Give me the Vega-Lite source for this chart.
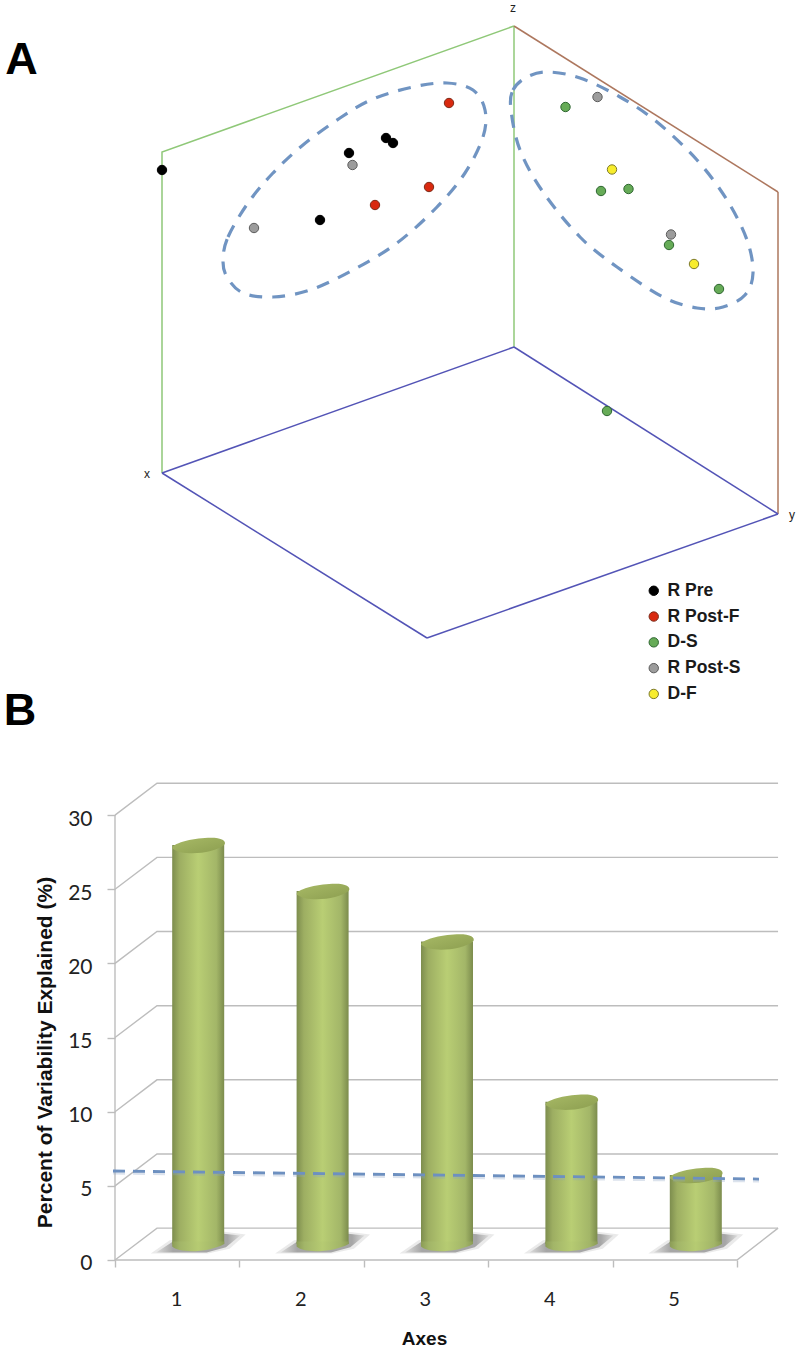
{
"$schema":"https://vega.github.io/schema/vega-lite/v6.json",
"padding":0,"spacing":0,"background":"white","bounds":"flush",
"config":{"view":{"stroke":null},"concat":{"spacing":0}},
"datasets":{
"points":[
{"group":"R Pre","px":162,"py":170},{"group":"R Pre","px":349,"py":153},{"group":"R Pre","px":386,"py":138},{"group":"R Pre","px":393,"py":143},{"group":"R Pre","px":320,"py":220},
{"group":"R Post-F","px":449,"py":103},{"group":"R Post-F","px":429,"py":187},{"group":"R Post-F","px":375,"py":205},
{"group":"D-S","px":565.5,"py":107},{"group":"D-S","px":601,"py":191},{"group":"D-S","px":628.5,"py":189},{"group":"D-S","px":669,"py":245},{"group":"D-S","px":719,"py":289},{"group":"D-S","px":607,"py":411},
{"group":"R Post-S","px":597.5,"py":97},{"group":"R Post-S","px":352.5,"py":165},{"group":"R Post-S","px":254,"py":228},{"group":"R Post-S","px":671,"py":234.5},
{"group":"D-F","px":612,"py":169.5},{"group":"D-F","px":694,"py":264}
],
"green":[{"e":"a","px":162,"py":473},{"e":"a","px":162,"py":152},{"e":"a","px":514,"py":26},{"e":"b","px":514,"py":26},{"e":"b","px":514,"py":347}],
"brown":[{"e":"a","px":514,"py":26},{"e":"a","px":778,"py":192},{"e":"b","px":778,"py":192},{"e":"b","px":778,"py":514}],
"blue":[{"e":"a","px":162,"py":473},{"e":"a","px":514,"py":347},{"e":"b","px":514,"py":347},{"e":"b","px":778,"py":514},{"e":"c","px":162,"py":473},{"e":"c","px":427,"py":638},{"e":"d","px":427,"py":638},{"e":"d","px":778,"py":514}],
"rings":[
{"r":"L","i":1,"px":223,"py":260},{"r":"L","i":2,"px":228,"py":237},{"r":"L","i":3,"px":248,"py":203},{"r":"L","i":4,"px":273,"py":173},{"r":"L","i":5,"px":303,"py":145},{"r":"L","i":6,"px":340,"py":118},{"r":"L","i":7,"px":373,"py":99},{"r":"L","i":8,"px":413,"py":87},{"r":"L","i":9,"px":447,"py":83},{"r":"L","i":10,"px":473,"py":90},{"r":"L","i":11,"px":485,"py":110},{"r":"L","i":12,"px":483,"py":137},{"r":"L","i":13,"px":465,"py":173},{"r":"L","i":14,"px":437,"py":207},{"r":"L","i":15,"px":397,"py":243},{"r":"L","i":16,"px":353,"py":270},{"r":"L","i":17,"px":310,"py":290},{"r":"L","i":18,"px":273,"py":297},{"r":"L","i":19,"px":243,"py":293},{"r":"L","i":20,"px":227,"py":277},
{"r":"R","i":1,"px":511,"py":110},{"r":"R","i":2,"px":513,"py":90},{"r":"R","i":3,"px":527,"py":77},{"r":"R","i":4,"px":548,"py":72},{"r":"R","i":5,"px":580,"py":78},{"r":"R","i":6,"px":620,"py":97},{"r":"R","i":7,"px":657,"py":122},{"r":"R","i":8,"px":697,"py":160},{"r":"R","i":9,"px":727,"py":200},{"r":"R","i":10,"px":747,"py":240},{"r":"R","i":11,"px":753,"py":273},{"r":"R","i":12,"px":745,"py":295},{"r":"R","i":13,"px":723,"py":307},{"r":"R","i":14,"px":697,"py":308},{"r":"R","i":15,"px":663,"py":297},{"r":"R","i":16,"px":617,"py":267},{"r":"R","i":17,"px":580,"py":237},{"r":"R","i":18,"px":543,"py":192},{"r":"R","i":19,"px":520,"py":150}
],
"bars":[{"axis":1,"value":26.9},{"axis":2,"value":23.8},{"axis":3,"value":20.4},{"axis":4,"value":9.6},{"axis":5,"value":4.65}],
"grid":[
{"g":"wall","a":0.5,"v":0},{"g":"wall","a":0.5,"v":30},
{"g":"f0","a":0.5,"v":0},{"g":"f0","a":5.5,"v":0},{"g":"f0","a":5.83,"v":2.15},
{"g":"g0","a":0.5,"v":0},{"g":"g0","a":0.8376,"v":2.15},{"g":"g0","a":5.83,"v":2.15},
{"g":"g5","a":0.5,"v":5},{"g":"g5","a":0.8376,"v":7.15},{"g":"g5","a":5.83,"v":7.15},
{"g":"g10","a":0.5,"v":10},{"g":"g10","a":0.8376,"v":12.15},{"g":"g10","a":5.83,"v":12.15},
{"g":"g15","a":0.5,"v":15},{"g":"g15","a":0.8376,"v":17.15},{"g":"g15","a":5.83,"v":17.15},
{"g":"g20","a":0.5,"v":20},{"g":"g20","a":0.8376,"v":22.15},{"g":"g20","a":5.83,"v":22.15},
{"g":"g25","a":0.5,"v":25},{"g":"g25","a":0.8376,"v":27.15},{"g":"g25","a":5.83,"v":27.15},
{"g":"g30","a":0.5,"v":30},{"g":"g30","a":0.8376,"v":32.15},{"g":"g30","a":5.83,"v":32.15}
],
"threshold":[{"a":0.484,"v":6.0},{"a":5.677,"v":5.46}]
},
"vconcat":[
{
"width":800,"height":730,
"encoding":{
"x":{"field":"px","type":"quantitative","scale":{"domain":[0,800],"nice":false,"zero":false},"axis":null},
"y":{"field":"py","type":"quantitative","scale":{"domain":[730,0],"nice":false,"zero":false},"axis":null}
},
"layer":[
{"data":{"name":"green"},"mark":{"type":"line","color":"#8fc878","strokeWidth":1.5},"encoding":{"detail":{"field":"e"}}},
{"data":{"name":"brown"},"mark":{"type":"line","color":"#ad775e","strokeWidth":1.5},"encoding":{"detail":{"field":"e"}}},
{"data":{"name":"blue"},"mark":{"type":"line","color":"#5354b6","strokeWidth":1.5},"encoding":{"detail":{"field":"e"}}},
{"data":{"name":"rings"},"mark":{"type":"line","color":"#7094c2","strokeWidth":3.2,"strokeDash":[13,10],"interpolate":"cardinal-closed"},"encoding":{"detail":{"field":"r"},"order":{"field":"i"}}},
{"data":{"name":"points"},"mark":{"type":"point","filled":true,"opacity":1,"size":88,"strokeWidth":1},
"encoding":{
"fill":{"field":"group","type":"nominal","sort":["R Pre","R Post-F","D-S","R Post-S","D-F"],
"scale":{"domain":["R Pre","R Post-F","D-S","R Post-S","D-F"],"range":["#000000","#d9290f","#66ab57","#9c9c9c","#f7ec2c"]},
"legend":{"orient":"none","legendX":645,"legendY":582,"title":null,"labelFont":"Liberation Sans","labelFontWeight":"bold","labelFontSize":17.5,"labelColor":"#1a1a1a","symbolSize":88,"symbolType":"circle","symbolStrokeWidth":1,"rowPadding":6.8,"labelOffset":5,"symbolOpacity":1}},
"stroke":{"field":"group","type":"nominal","sort":["R Pre","R Post-F","D-S","R Post-S","D-F"],
"scale":{"domain":["R Pre","R Post-F","D-S","R Post-S","D-F"],"range":["#000000","#7c2a18","#2e6630","#5c5c5c","#7d7a2a"]},"legend":{"orient":"none","legendX":645,"legendY":582,"title":null}}
}},
{"data":{"values":[{"t":"A","px":21.5,"py":74},{"t":"B","px":20,"py":725}]},"mark":{"type":"text","font":"Liberation Sans","fontWeight":"bold","fontSize":45,"align":"center","baseline":"alphabetic","color":"#000"},"encoding":{"text":{"field":"t"}}},
{"data":{"values":[{"t":"z","px":513,"py":8},{"t":"x","px":147,"py":474},{"t":"y","px":792,"py":515}]},"mark":{"type":"text","font":"Liberation Sans","fontSize":12,"align":"center","baseline":"middle","color":"#222"},"encoding":{"text":{"field":"t"}}}
]
},
{
"width":800,"height":622,
"layer":[
{"data":{"name":"grid"},"mark":{"type":"line","color":"#bdbdbd","strokeWidth":1.4},
"encoding":{
"x":{"field":"a","type":"quantitative","title":"Axes","scale":{"domain":[-0.4244,6.0064],"nice":false,"zero":false,"padding":0},
"axis":{"values":[0.5,1.5,2.5,3.5,4.5,5.5],"labelExpr":"datum.value==5.5?'':format(datum.value+0.5,'d')","offset":-92,"domain":false,"grid":false,"tickColor":"#bdbdbd","tickSize":7,"tickWidth":1.4,"labelOffset":61,"labelPadding":22,"labelFont":"Lato","labelFontSize":20,"labelColor":"#222","labelFlush":false,"labelOverlap":false,"titleFont":"Liberation Sans","titleFontWeight":"bold","titleFontSize":19,"titleColor":"#111","titleX":424,"titleY":78,"titleBaseline":"middle"}},
"y":{"field":"v","type":"quantitative","title":"Percent of Variability Explained  (%)","scale":{"domain":[-6.204,35.74],"nice":false,"zero":false,"padding":0},
"axis":{"values":[0,5,10,15,20,25,30],"offset":-115,"domain":false,"grid":false,"tickColor":"#bdbdbd","tickSize":8,"tickWidth":1.4,"labelPadding":15,"labelOffset":4,"labelFont":"Lato","labelFontSize":21,"labelColor":"#222","titleFont":"Liberation Sans","titleFontWeight":"bold","titleFontSize":21,"titleColor":"#111","titleX":-70,"titleY":322,"titleBaseline":"middle","titleAngle":-90}},
"detail":{"field":"g"}
}},
{"data":{"name":"bars"},"mark":{"type":"point","filled":true,"opacity":0.35,"xOffset":21,"yOffset":-16,"size":9000,"shape":"M-1,0.2 L-0.6,-0.08 L0.55,-0.26 L1,-0.2 L0.66,0.1 L0.2,0.2 Z","color":"#c4c4c4"},
"encoding":{"x":{"field":"axis","type":"quantitative"},"y":{"datum":0,"type":"quantitative"}}},
{"data":{"name":"bars"},"mark":{"type":"point","filled":true,"opacity":1,"xOffset":21,"yOffset":-16,"size":7056,"shape":"M-1,0.2 L-0.6,-0.06 L0.55,-0.25 L1,-0.2 L0.66,0.08 L0.2,0.2 Z","color":{"gradient":"linear","x1":0,"x2":1,"y1":0,"y2":0,"stops":[{"offset":0,"color":"#dcdcdc"},{"offset":0.2,"color":"#a6a6a6"},{"offset":0.85,"color":"#a6a6a6"},{"offset":1,"color":"#dcdcdc"}]}},
"encoding":{"x":{"field":"axis","type":"quantitative"},"y":{"datum":0,"type":"quantitative"}}},
{"data":{"name":"bars"},"mark":{"type":"bar","orient":"vertical","width":52,"xOffset":21,"yOffset":-16,"y2Offset":-16,"color":{"gradient":"linear","x1":0,"x2":1,"y1":0,"y2":0,"stops":[{"offset":0,"color":"#7d8d4e"},{"offset":0.14,"color":"#9dae62"},{"offset":0.5,"color":"#b9ce74"},{"offset":0.85,"color":"#a3b668"},{"offset":1,"color":"#7c8c4d"}]}},
"encoding":{"x":{"field":"axis","type":"quantitative"},"y":{"field":"value","type":"quantitative"},"y2":{"datum":0}}},
{"data":{"name":"bars"},"mark":{"type":"point","filled":true,"opacity":1,"xOffset":21,"yOffset":-16,"size":2704,"shape":"M-1,-0.1 L-1,0.1 C-0.75,0.38 0.45,0.32 1,0 L1,-0.1 Z","color":{"gradient":"linear","x1":0,"x2":1,"y1":0,"y2":0,"stops":[{"offset":0,"color":"#8b9c56"},{"offset":0.15,"color":"#a2b568"},{"offset":0.5,"color":"#b6cb72"},{"offset":0.85,"color":"#a2b568"},{"offset":1,"color":"#8b9c56"}]}},
"encoding":{"x":{"field":"axis","type":"quantitative"},"y":{"datum":0,"type":"quantitative"}}},
{"data":{"name":"bars"},"mark":{"type":"point","filled":true,"opacity":1,"xOffset":21,"yOffset":-16,"size":2704,"shape":"M-1,0.12 C-0.95,-0.14 0.25,-0.34 0.75,-0.26 C1.08,-0.2 1.05,-0.04 1,0 C0.62,0.32 -0.62,0.46 -1,0.12 Z","color":{"gradient":"linear","x1":0,"x2":1,"y1":0,"y2":1,"stops":[{"offset":0,"color":"#a8ba66"},{"offset":1,"color":"#8c9e50"}]}},
"encoding":{"x":{"field":"axis","type":"quantitative"},"y":{"field":"value","type":"quantitative"}}},
{"data":{"name":"threshold"},"mark":{"type":"line","color":"#8aa2c4","opacity":0.3,"strokeWidth":3,"strokeDash":[12,8],"yOffset":2},
"encoding":{"x":{"field":"a","type":"quantitative"},"y":{"field":"v","type":"quantitative"}}},
{"data":{"name":"threshold"},"mark":{"type":"line","color":"#6d90c0","strokeWidth":2.8,"strokeDash":[12,8]},
"encoding":{"x":{"field":"a","type":"quantitative"},"y":{"field":"v","type":"quantitative"}}}
]
}
]
}
